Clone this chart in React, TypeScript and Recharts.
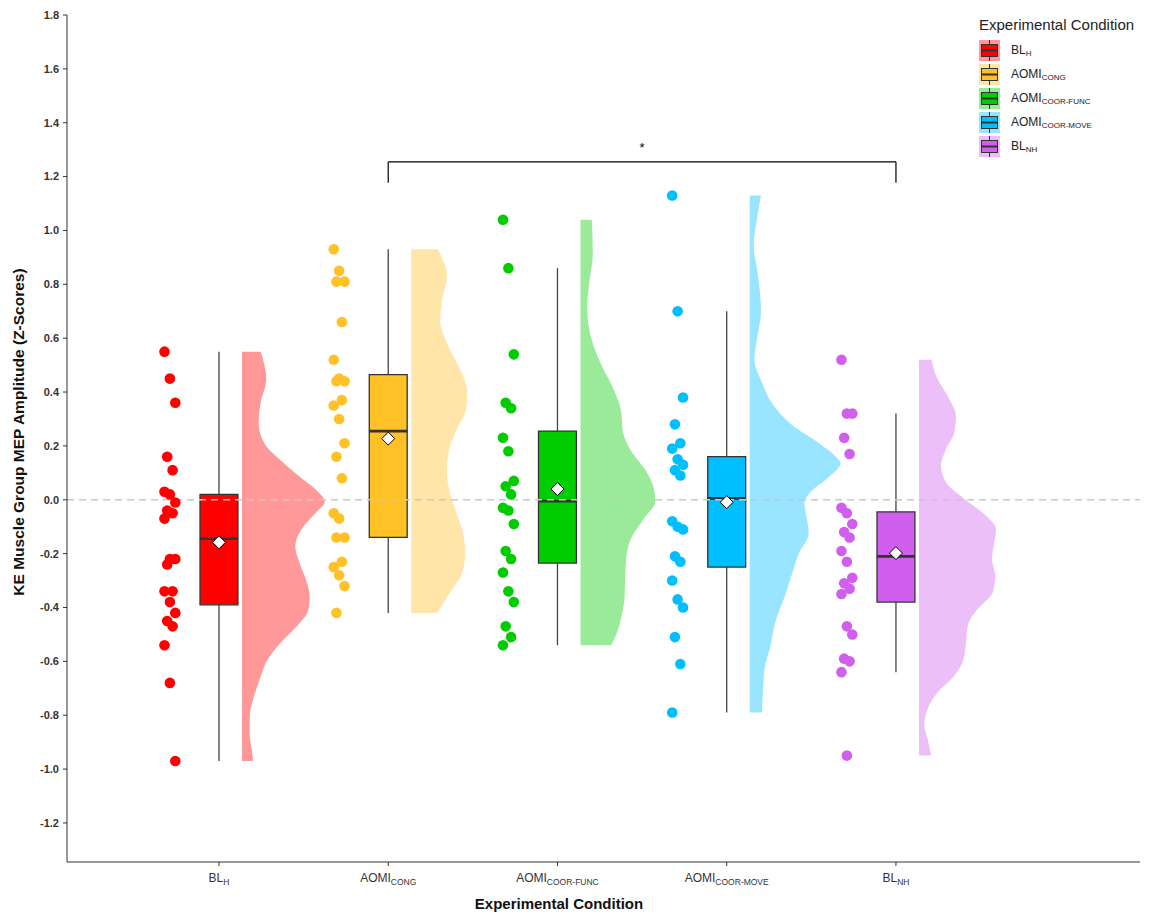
import React from 'react';
import { ComposedChart, Area, Scatter, XAxis, YAxis, ReferenceLine, ReferenceArea, ReferenceDot } from 'recharts';

// condition labels (main text + subscript)
const labelMain = ['BL', 'AOMI', 'AOMI', 'AOMI', 'BL'];
const labelSub = ['H', 'CONG', 'COOR-FUNC', 'COOR-MOVE', 'NH'];
const colors = ['#FF0000', '#FFC125', '#00CD00', '#00BFFF', '#D15FEE'];

// individual z-scores per condition
const blH = [0.55, 0.45, 0.36, 0.16, 0.11, 0.03, 0.02, -0.01, -0.04, -0.05, -0.07, -0.22, -0.22, -0.24, -0.34, -0.34, -0.38, -0.42, -0.45, -0.47, -0.54, -0.68, -0.97];
const aomiCong = [0.93, 0.85, 0.81, 0.81, 0.66, 0.52, 0.45, 0.44, 0.44, 0.37, 0.35, 0.3, 0.21, 0.16, 0.08, -0.05, -0.07, -0.14, -0.14, -0.23, -0.25, -0.28, -0.32, -0.42];
const aomiFunc = [1.04, 0.86, 0.54, 0.36, 0.34, 0.23, 0.18, 0.07, 0.05, 0.02, -0.03, -0.04, -0.09, -0.19, -0.22, -0.27, -0.34, -0.38, -0.47, -0.51, -0.54];
const aomiMove = [1.13, 0.7, 0.38, 0.28, 0.21, 0.19, 0.15, 0.13, 0.11, 0.09, -0.08, -0.1, -0.11, -0.21, -0.23, -0.3, -0.37, -0.4, -0.51, -0.61, -0.79];
const blNH = [0.52, 0.32, 0.32, 0.23, 0.17, -0.03, -0.05, -0.09, -0.12, -0.14, -0.19, -0.23, -0.29, -0.31, -0.33, -0.35, -0.47, -0.5, -0.59, -0.6, -0.64, -0.95];
const series = [blH, aomiCong, aomiFunc, aomiMove, blNH];

// half-violin outlines: [z-score, relative density]
const violinBLH = [[0.55, 0.187], [0.448, 0.243], [0.36, 0.187], [0.283, 0.167], [0.207, 0.227], [0.144, 0.393], [0.081, 0.593], [0.03, 0.76], [-0.008, 0.827], [-0.046, 0.743], [-0.11, 0.593], [-0.173, 0.533], [-0.237, 0.577], [-0.3, 0.643], [-0.363, 0.677], [-0.414, 0.66], [-0.465, 0.56], [-0.528, 0.393], [-0.591, 0.26], [-0.667, 0.177], [-0.743, 0.11], [-0.807, 0.077], [-0.87, 0.077], [-0.934, 0.1], [-0.97, 0.11]];
const violinCong = [[0.93, 0.267], [0.829, 0.357], [0.74, 0.307], [0.664, 0.29], [0.588, 0.35], [0.524, 0.433], [0.461, 0.517], [0.398, 0.56], [0.334, 0.547], [0.258, 0.45], [0.182, 0.377], [0.106, 0.357], [0.03, 0.383], [-0.046, 0.45], [-0.122, 0.517], [-0.198, 0.54], [-0.274, 0.507], [-0.338, 0.4], [-0.42, 0.257]];
const violinFunc = [[1.04, 0.113], [0.91, 0.123], [0.811, 0.09], [0.712, 0.067], [0.601, 0.107], [0.502, 0.207], [0.403, 0.34], [0.328, 0.407], [0.254, 0.423], [0.18, 0.507], [0.106, 0.657], [0.031, 0.74], [-0.006, 0.747], [-0.068, 0.64], [-0.142, 0.507], [-0.216, 0.457], [-0.29, 0.447], [-0.365, 0.44], [-0.439, 0.407], [-0.501, 0.357], [-0.54, 0.307]];
const violinMove = [[1.13, 0.113], [1.044, 0.073], [0.942, 0.04], [0.841, 0.08], [0.701, 0.113], [0.612, 0.08], [0.523, 0.047], [0.435, 0.123], [0.358, 0.223], [0.282, 0.407], [0.206, 0.707], [0.155, 0.873], [0.136, 0.907], [0.079, 0.773], [0.028, 0.607], [-0.01, 0.547], [-0.073, 0.573], [-0.124, 0.59], [-0.2, 0.49], [-0.276, 0.423], [-0.352, 0.357], [-0.454, 0.257], [-0.543, 0.207], [-0.631, 0.147], [-0.708, 0.133], [-0.79, 0.123]];
const violinNH = [[0.52, 0.127], [0.461, 0.17], [0.374, 0.303], [0.312, 0.37], [0.25, 0.353], [0.188, 0.27], [0.126, 0.22], [0.065, 0.27], [0.003, 0.453], [-0.059, 0.67], [-0.109, 0.77], [-0.171, 0.747], [-0.22, 0.73], [-0.282, 0.763], [-0.344, 0.737], [-0.406, 0.587], [-0.468, 0.487], [-0.53, 0.47], [-0.591, 0.447], [-0.653, 0.353], [-0.715, 0.187], [-0.777, 0.087], [-0.839, 0.053], [-0.888, 0.087], [-0.95, 0.12]];
const violins = [violinBLH, violinCong, violinFunc, violinMove, violinNH];

// boxplot stats
const q1 = [-0.39, -0.14, -0.235, -0.25, -0.38];
const median = [-0.145, 0.255, -0.005, 0.005, -0.21];
const q3 = [0.02, 0.465, 0.255, 0.16, -0.045];
const means = [-0.158, 0.227, 0.04, -0.009, -0.198];
const whiskerLo = [-0.97, -0.42, -0.54, -0.79, -0.64];
const whiskerHi = [0.55, 0.93, 0.86, 0.7, 0.32];

const yTicks = [-1.2, -1.0, -0.8, -0.6, -0.4, -0.2, 0, 0.2, 0.4, 0.6, 0.8, 1.0, 1.2, 1.4, 1.6, 1.8];

// significance bracket between AOMI_CONG and BL_NH
const sigFrom = 2;
const sigTo = 5;
const sigTop = 1.255;
const sigTip = 1.177;

const FONT = '"Liberation Sans", Arial, Helvetica, sans-serif';
const DOT_OFFSET = -0.29;
const BOX_HALF = 0.112;
const VIOLIN_OFFSET = 0.136;
const VIOLIN_SCALE = 0.591;

const violinData = violins.map((pts, g) => {
  const base = g + 1 + VIOLIN_OFFSET;
  return pts.map(([v, d]) => ({ v, range: [base, base + d * VIOLIN_SCALE] }));
});

const dotData = series.map((vals, g) =>
  vals.map((v, i) => ({ x: g + 1 + DOT_OFFSET + (((i * 7) % 5) - 2) * 0.016, v }))
);

const XTick = (props: any) => {
  const { x, y, payload } = props;
  const i = payload.value - 1;
  return (
    <text x={x} y={y + 14} textAnchor="middle" fontSize={12} fill="#333" fontFamily={FONT}>
      <tspan>{labelMain[i]}</tspan>
      <tspan fontSize={8.5} dy={3}>{labelSub[i]}</tspan>
    </text>
  );
};

const Diamond = (p: any) => (
  <polygon
    points={`${p.cx},${p.cy - 6.5} ${p.cx + 6.5},${p.cy} ${p.cx},${p.cy + 6.5} ${p.cx - 6.5},${p.cy}`}
    fill="#fff"
    stroke="#000"
    strokeWidth={1}
  />
);

const LegendKey = ({ color }: { color: string }) => (
  <svg width={21} height={21} style={{ display: 'block' }}>
    <rect x={0} y={0} width={21} height={21} fill={color} fillOpacity={0.4} />
    <line x1={10.5} y1={0} x2={10.5} y2={21} stroke="#333" strokeWidth={1} />
    <rect x={2.5} y={4.5} width={16} height={12} fill={color} stroke="#333" strokeWidth={1} />
    <line x1={2.5} y1={10.5} x2={18.5} y2={10.5} stroke="#333" strokeWidth={2} />
  </svg>
);

export default function App() {
  return (
    <div style={{ position: 'absolute', left: 0, top: 0, width: 1150, height: 917, background: '#fff', fontFamily: FONT }}>
      <ComposedChart width={1150} height={917} layout="vertical" margin={{ top: 15, right: 10, bottom: 0, left: 0 }}>
        <XAxis
          type="number"
          domain={[0.102, 6.442]}
          allowDataOverflow
          ticks={[1, 2, 3, 4, 5]}
          interval={0}
          tick={<XTick />}
          tickSize={4}
          height={55}
          axisLine={{ stroke: '#333' }}
          tickLine={{ stroke: '#333' }}
          label={() => (
            <text x={559} y={909} textAnchor="middle" fontSize={15} fontWeight="bold" fill="#111" fontFamily={FONT}>
              Experimental Condition
            </text>
          )}
        />
        <YAxis
          type="number"
          dataKey="v"
          reversed
          domain={[-1.345, 1.8]}
          allowDataOverflow
          ticks={yTicks}
          interval={0}
          tickFormatter={(v: number) => v.toFixed(1)}
          tick={{ fill: '#333', fontSize: 11, fontWeight: 'bold', fontFamily: FONT }}
          tickSize={4}
          tickMargin={4}
          width={67}
          axisLine={{ stroke: '#333' }}
          tickLine={{ stroke: '#333' }}
          label={() => (
            <text
              transform="translate(24,432) rotate(-90)"
              textAnchor="middle"
              fontSize={15.5}
              fontWeight="bold"
              fill="#111"
              fontFamily={FONT}
            >
              KE Muscle Group MEP Amplitude (Z-Scores)
            </text>
          )}
        />
        {violinData.map((rows, g) => (
          <Area
            key={'violin' + g}
            data={rows}
            dataKey="range"
            type="monotone"
            fill={colors[g]}
            fillOpacity={0.4}
            stroke="none"
            dot={false}
            activeDot={false}
            isAnimationActive={false}
          />
        ))}
        {series.map((_, g) => (
          <ReferenceLine
            key={'wh' + g}
            segment={[{ x: g + 1, y: q3[g] }, { x: g + 1, y: whiskerHi[g] }]}
            stroke="#444"
            strokeWidth={1.3}
          />
        ))}
        {series.map((_, g) => (
          <ReferenceLine
            key={'wl' + g}
            segment={[{ x: g + 1, y: whiskerLo[g] }, { x: g + 1, y: q1[g] }]}
            stroke="#444"
            strokeWidth={1.3}
          />
        ))}
        {series.map((_, g) => (
          <ReferenceArea
            key={'box' + g}
            x1={g + 1 - BOX_HALF}
            x2={g + 1 + BOX_HALF}
            y1={q1[g]}
            y2={q3[g]}
            fill={colors[g]}
            fillOpacity={1}
            stroke="#333"
            strokeWidth={1.3}
          />
        ))}
        {series.map((_, g) => (
          <ReferenceLine
            key={'med' + g}
            segment={[{ x: g + 1 - BOX_HALF, y: median[g] }, { x: g + 1 + BOX_HALF, y: median[g] }]}
            stroke="#333"
            strokeWidth={2.6}
          />
        ))}
        <ReferenceLine y={0} stroke="#c8c8c8" strokeWidth={1.5} strokeDasharray="7 5" />
        {series.map((_, g) => (
          <Scatter
            key={'dots' + g}
            data={dotData[g]}
            dataKey="x"
            fill={colors[g]}
            shape={(p: any) => <circle cx={p.cx} cy={p.cy} r={5.3} fill={colors[g]} />}
            isAnimationActive={false}
          />
        ))}
        {series.map((_, g) => (
          <ReferenceDot key={'mean' + g} x={g + 1} y={means[g]} r={6} shape={Diamond} />
        ))}
        <ReferenceLine segment={[{ x: sigFrom, y: sigTip }, { x: sigFrom, y: sigTop }]} stroke="#000" strokeWidth={1.2} />
        <ReferenceLine segment={[{ x: sigFrom, y: sigTop }, { x: sigTo, y: sigTop }]} stroke="#000" strokeWidth={1.2} />
        <ReferenceLine segment={[{ x: sigTo, y: sigTop }, { x: sigTo, y: sigTip }]} stroke="#000" strokeWidth={1.2} />
        <ReferenceDot
          x={(sigFrom + sigTo) / 2}
          y={sigTop}
          r={0}
          fill="none"
          stroke="none"
          label={{ value: '*', position: 'top', offset: 10, fontSize: 13, fill: '#000', fontFamily: FONT }}
        />
      </ComposedChart>
      <div style={{ position: 'absolute', left: 979, top: 16, color: '#222' }}>
        <div style={{ fontSize: 15, marginBottom: 5, whiteSpace: 'nowrap' }}>Experimental Condition</div>
        {labelMain.map((m, g) => (
          <div key={g} style={{ display: 'flex', alignItems: 'center', height: 24.2 }}>
            <LegendKey color={colors[g]} />
            <span style={{ fontSize: 12, marginLeft: 11, whiteSpace: 'nowrap' }}>
              {m}
              <sub style={{ fontSize: 8, verticalAlign: -2 }}>{labelSub[g]}</sub>
            </span>
          </div>
        ))}
      </div>
    </div>
  );
}
